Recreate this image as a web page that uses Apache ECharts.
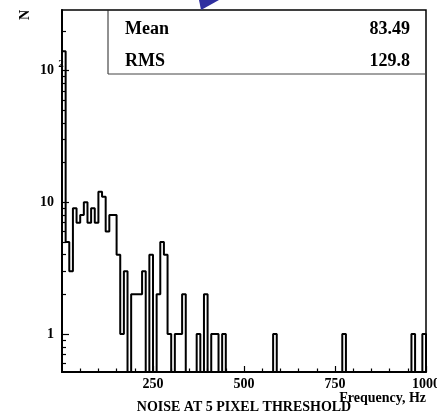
<!DOCTYPE html>
<html>
<head>
<meta charset="utf-8">
<script src="https://cdn.jsdelivr.net/npm/echarts@6/dist/echarts.min.js"></script>
<style>
  html, body { margin: 0; padding: 0; background: #fff; }
  #chart { width: 437px; height: 414px; }
</style>
</head>
<body>
<div id="chart"></div>
<script>
// histogram: 100 bins of 10 Hz, counts
const binWidth = 10;
const counts = [
  140, 5, 3, 9, 7, 8, 10, 7, 9, 7,
  12, 11, 6, 8, 8, 4, 1, 3, 0, 2,
  2, 2, 3, 0, 4, 0, 2, 5, 4, 1,
  0, 1, 1, 2, 0, 0, 0, 1, 0, 2,
  0, 1, 1, 0, 1, 0, 0, 0, 0, 0,
  0, 0, 0, 0, 0, 0, 0, 0, 1, 0,
  0, 0, 0, 0, 0, 0, 0, 0, 0, 0,
  0, 0, 0, 0, 0, 0, 0, 1, 0, 0,
  0, 0, 0, 0, 0, 0, 0, 0, 0, 0,
  0, 0, 0, 0, 0, 0, 1, 0, 0, 1
];

const xMajorTicks = [250, 500, 750, 1000];
const xMinorTicks = [50, 100, 150, 200, 300, 350, 400, 450, 550, 600, 650, 700, 800, 850, 900, 950];
const yMajorTicks = [1, 10, 100];
const yMinorTicks = [0.6, 0.7, 0.8, 0.9, 2, 3, 4, 5, 6, 7, 8, 9, 20, 30, 40, 50, 60, 70, 80, 90, 200];
const xRange = [0, 1000];
const yRange = [0.515, 288];

const statNames = ['Mean', 'RMS'];
const statValues = ['83.49', '129.8'];

const title = 'NOISE AT 5 PIXEL THRESHOLD';
const xName = 'Frequency, Hz';
const yName = 'N';

const FONT = 'Liberation Serif';

// stepped outline, empty bins drop to the bottom of the frame
const outline = [[xRange[0], yRange[0]]];
counts.forEach((c, i) => {
  outline.push([i * binWidth, c > 0 ? c : yRange[0]]);
});
outline.push([counts.length * binWidth, yRange[0]]);

const chart = echarts.init(document.getElementById('chart'), null, { renderer: 'canvas' });

const labelStyle = { fontFamily: FONT, fontWeight: 'bold', fontSize: 14, color: '#000' };

const option = {
  animation: false,
  backgroundColor: '#fff',
  grid: {
    left: 62, right: 11, top: 10, bottom: 42,
    containLabel: false,
    outerBoundsMode: 'none',
    show: true,
    borderColor: '#000',
    borderWidth: 1.5,
  },
  xAxis: [
    {
      type: 'value',
      min: xRange[0],
      max: xRange[1],
      position: 'bottom',
      splitLine: { show: false },
      axisLine: { show: true, lineStyle: { color: '#000', width: 2 } },
      axisTick: { show: true, inside: true, length: 6, customValues: xMajorTicks, lineStyle: { color: '#000', width: 1.2 } },
      axisLabel: Object.assign({ margin: 5, customValues: xMajorTicks, formatter: v => String(v) }, labelStyle),
    },
    {
      type: 'value',
      min: xRange[0],
      max: xRange[1],
      position: 'bottom',
      splitLine: { show: false },
      axisLine: { show: false },
      axisTick: { show: true, inside: true, length: 3.5, customValues: xMinorTicks, lineStyle: { color: '#000', width: 1.2 } },
      axisLabel: { show: false },
    },
  ],
  yAxis: [
    {
      type: 'log',
      logBase: 10,
      min: yRange[0],
      max: yRange[1],
      position: 'left',
      splitLine: { show: false },
      axisLine: { show: true, lineStyle: { color: '#000', width: 2 } },
      axisTick: { show: true, inside: true, length: 7, customValues: yMajorTicks, lineStyle: { color: '#000', width: 1.2 } },
      axisLabel: Object.assign({ margin: 8, customValues: yMajorTicks, formatter: v => String(Math.round(v === 100 ? 10 : v)) }, labelStyle),
    },
    {
      type: 'log',
      logBase: 10,
      min: yRange[0],
      max: yRange[1],
      position: 'left',
      splitLine: { show: false },
      axisLine: { show: false },
      axisTick: { show: true, inside: true, length: 4, customValues: yMinorTicks, lineStyle: { color: '#000', width: 1.2 } },
      axisLabel: { show: false },
    },
  ],
  series: [
    {
      type: 'line',
      step: 'end',
      data: outline,
      showSymbol: false,
      clip: true,
      lineStyle: { color: '#000', width: 2 },
      z: 5,
    },
  ],
  graphic: [],
};

chart.setOption(option);

// stats box, titles and exponent placed after layout
const pTopLeft = chart.convertToPixel({ xAxisIndex: 0, yAxisIndex: 0 }, [xRange[0], yRange[1]]);
const pBotRight = chart.convertToPixel({ xAxisIndex: 0, yAxisIndex: 0 }, [xRange[1], yRange[0]]);
const y100 = chart.convertToPixel({ yAxisIndex: 0 }, 100);
const boxLeft = 108;
const boxBottom = 74;
const rowY = [29, 61];

const graphic = [
  // blue wedge at the top edge
  {
    type: 'polygon',
    shape: { points: [[199, 0], [219, 0], [201, 10]] },
    style: { fill: '#2f2fa0' },
    z: 10,
  },
  {
    type: 'line',
    shape: { x1: boxLeft, y1: pTopLeft[1], x2: boxLeft, y2: boxBottom },
    style: { stroke: '#222', lineWidth: 1 },
    z: 10,
  },
  {
    type: 'line',
    shape: { x1: boxLeft, y1: boxBottom, x2: pBotRight[0], y2: boxBottom },
    style: { stroke: '#444', lineWidth: 1 },
    z: 10,
  },
  {
    type: 'text',
    x: 61, y: y100 - 6,
    style: { text: '2', fontFamily: FONT, fontWeight: 'bold', fontSize: 11, fill: '#000', align: 'center', verticalAlign: 'middle' },
    z: 10,
  },
  {
    type: 'text',
    x: 25, y: 15,
    rotation: Math.PI / 2,
    style: { text: yName, fontFamily: FONT, fontWeight: 'bold', fontSize: 14, fill: '#000', align: 'center', verticalAlign: 'middle' },
    z: 10,
  },
  {
    type: 'text',
    x: pBotRight[0], y: 398,
    style: { text: xName, fontFamily: FONT, fontWeight: 'bold', fontSize: 14, fill: '#000', align: 'right', verticalAlign: 'middle' },
    z: 10,
  },
  {
    type: 'text',
    x: (pTopLeft[0] + pBotRight[0]) / 2, y: 407,
    style: { text: title, fontFamily: FONT, fontWeight: 'bold', fontSize: 14, fill: '#000', align: 'center', verticalAlign: 'middle' },
    z: 10,
  },
];

statNames.forEach((name, i) => {
  graphic.push({
    type: 'text', x: 125, y: rowY[i],
    style: { text: name, fontFamily: FONT, fontWeight: 'bold', fontSize: 18, fill: '#000', align: 'left', verticalAlign: 'middle' },
    z: 10,
  });
  graphic.push({
    type: 'text', x: 410, y: rowY[i],
    style: { text: statValues[i], fontFamily: FONT, fontWeight: 'bold', fontSize: 18, fill: '#000', align: 'right', verticalAlign: 'middle' },
    z: 10,
  });
});

chart.setOption({ graphic });
</script>
</body>
</html>
